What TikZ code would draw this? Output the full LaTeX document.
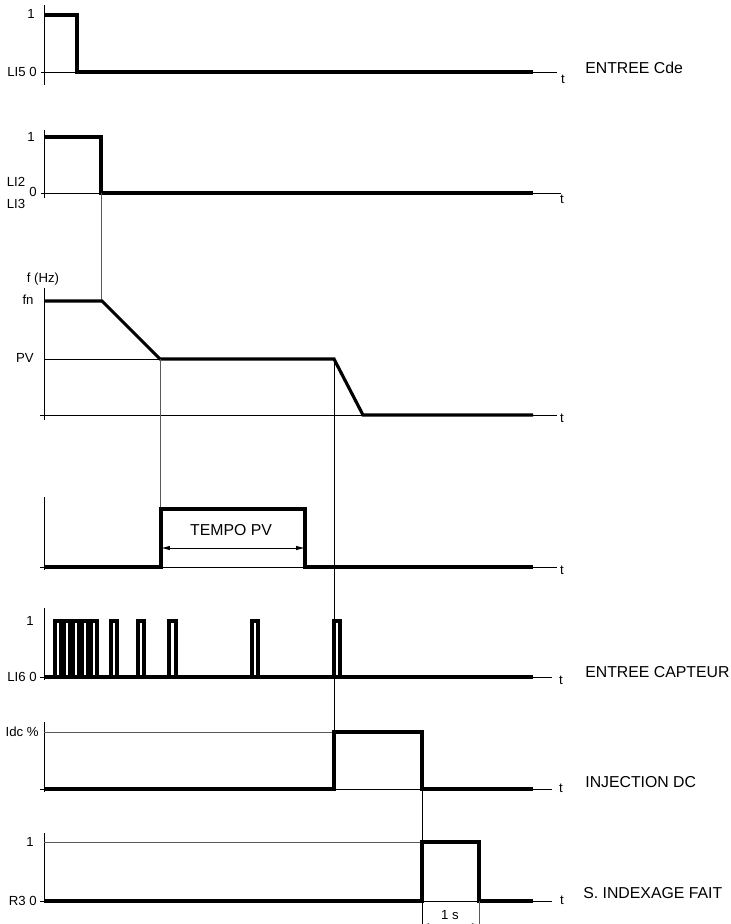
\documentclass[tikz,border=0pt]{standalone}
\usepackage{fontspec}
\setmainfont{Liberation Sans}
\usetikzlibrary{arrows.meta}

\begin{document}
\begin{tikzpicture}[x=0.02cm, y=-0.02cm,
  every node/.style={font=\fontsize{7.5}{8}\selectfont, inner sep=0pt},
  sig/.style={line width=1.8pt, line join=miter},
  axisline/.style={line width=0.55pt},
  guide/.style={line width=0.55pt, black!65},
  title/.style={font=\fontsize{9}{11}\selectfont, anchor=west}]
\useasboundingbox (0,0) rectangle (731,924);
% ENTREE Cde
\draw[axisline] (44,5) -- (44,85);
\draw[axisline] (41,72) -- (557,72);
\draw[sig] (44,15) -- (77,15) -- (77,72) -- (533,72);
\node[anchor=east] (cdeone) at (35,14) {1};
\node[anchor=east] (cdezero) at (37,72) {LI5 0};
\node (cdet) at (563,79) {t};
\node[title] (cdename) at (585,68) {ENTREE Cde};
% LI2 LI3
\draw[axisline] (44,130) -- (44,198);
\draw[axisline] (41,193) -- (561,193);
\draw[sig] (44,137) -- (101,137) -- (101,193) -- (533,193);
\node[anchor=east] (lione) at (35,137) {1};
\node (litwo) at (16,182) {LI2};
\node (lizero) at (33,192) {0};
\node (lithree) at (16,204) {LI3};
\node (lit) at (562,199) {t};
\draw[guide] (101,193) -- (101,301);
% f (Hz)
\draw[axisline] (44,288) -- (44,420);
\draw[axisline] (40,415) -- (557,415);
\draw[axisline] (44,359) -- (160,359);
\draw[sig] (44,301) -- (102,301) -- (160,359) -- (334,359) -- (363,415) -- (533,415);
\node (fhz) at (43,279) {f (Hz)};
\node (ffn) at (28,300) {fn};
\node (fpv) at (25,358) {PV};
\node (ft) at (562,418) {t};
\draw[guide] (160,359) -- (160,509);
\draw[axisline] (334,359) -- (334,732);
% TEMPO PV
\draw[axisline] (44,497) -- (44,570);
\draw[axisline] (40,567) -- (557,567);
\draw[sig] (44,567) -- (161,567) -- (161,509) -- (305,509) -- (305,567) -- (533,567);
\draw[axisline, {Latex[length=5pt,width=2.5pt]}-{Latex[length=5pt,width=2.5pt]}] (161,548) -- (305,548);
\node[font=\fontsize{9}{11}\selectfont] (tempo) at (231,530) {TEMPO PV};
\node (tempot) at (562,570) {t};
% ENTREE CAPTEUR
\draw[axisline] (44,608) -- (44,680);
\draw[axisline] (40,677) -- (552,677);
\draw[sig] (44,677) -- (533,677);
\foreach \a/\b in {55/61,64/70,73/79,82/88,91/97,111/117,138/144,169/176,252/258,334/340}
  \draw[sig] (\a,677) -- (\a,621) -- (\b,621) -- (\b,677);
\node[anchor=east] (capone) at (34,621) {1};
\node[anchor=east] (capzero) at (37,677) {LI6 0};
\node (capt) at (561,680) {t};
\node[title] (capname) at (585,672) {ENTREE CAPTEUR};
% INJECTION DC
\draw[axisline] (44,722) -- (44,792);
\draw[axisline] (40,789) -- (552,789);
\draw[guide] (44,732) -- (334,732);
\draw[sig] (44,789) -- (334,789) -- (334,732) -- (422,732) -- (422,789) -- (533,789);
\node[anchor=east] (idc) at (39,732) {Idc \%};
\node (idct) at (561,788) {t};
\node[title] (idcname) at (585,782) {INJECTION DC};
\draw[axisline] (422,789) -- (422,924);
% S. INDEXAGE FAIT
\draw[axisline] (44,833) -- (44,903);
\draw[axisline] (40,901) -- (552,901);
\draw[guide] (44,842) -- (422,842);
\draw[sig] (44,901) -- (422,901) -- (422,842) -- (479,842) -- (479,901) -- (533,901);
\node[anchor=east] (rone) at (34,842) {1};
\node[anchor=east] (rzero) at (37,901) {R3 0};
\node (rt) at (562,900) {t};
\node[title] (rname) at (583,893) {S. INDEXAGE FAIT};
\draw[guide] (479,901) -- (479,924);
\node (ones) at (450,915) {1 s};
\draw[axisline, {Latex[length=4pt,width=2pt]}-{Latex[length=4pt,width=2pt]}] (422,925) -- (479,925);
\end{tikzpicture}
\end{document}
